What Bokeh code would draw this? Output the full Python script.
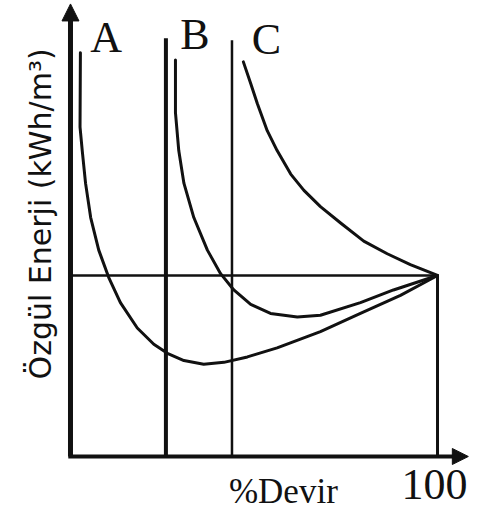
import math
from bokeh.plotting import figure
from bokeh.models import Arrow, NormalHead, Range1d
from bokeh.core.properties import value
from bokeh.embed import file_html
from bokeh.resources import INLINE

# Curves: x = % Devir (speed), y = specific energy (relative, 1.0 at 100 %)
curve_a_x = [2.7, 2.6, 3.2, 4.1, 5.5, 7.7, 10.4, 13.6, 18.2, 22.7, 26.4, 30.9, 36.3,
             41.8, 48.2, 56.3, 68.1, 79.0, 89.9, 100.0]
curve_a_y = [2.23, 1.82, 1.69, 1.51, 1.32, 1.14, 0.99, 0.85, 0.71, 0.62, 0.57, 0.53, 0.51,
             0.52, 0.55, 0.60, 0.69, 0.79, 0.89, 1.00]

curve_b_x = [28.6, 28.6, 29.5, 30.9, 33.6, 37.3, 40.9, 44.5, 49.1, 54.5, 61.8, 68.1,
             79.0, 88.0, 100.0]
curve_b_y = [2.19, 1.90, 1.69, 1.51, 1.32, 1.14, 1.01, 0.92, 0.84, 0.79, 0.77, 0.78,
             0.85, 0.92, 1.00]

curve_c_x = [47.1, 49.1, 50.9, 53.6, 56.3, 60.0, 63.6, 68.1, 73.6, 79.9, 86.3, 92.6, 100.0]
curve_c_y = [2.18, 2.06, 1.95, 1.80, 1.69, 1.56, 1.47, 1.38, 1.29, 1.19, 1.12, 1.06, 1.00]

curve_labels = ["A", "B", "C"]
label_x = [9.7, 33.9, 53.4]
label_y = [2.315, 2.33, 2.305]

limit_lines_x = [26.0, 44.0]      # vertical limit lines
limit_top = [2.31, 2.30]
ref_x = 100.0                      # 100 % Devir
ref_y = 1.0                        # energy at 100 %

x_axis_title = "%Devir"
y_axis_title = "Özgül Enerji (kWh/m³)"
x_tick_label = "100"

W, H = 479, 511
p = figure(width=W, height=H, output_backend="svg", toolbar_location=None,
           x_range=Range1d(-19.07, 111.44), y_range=Range1d(-0.3039, 2.519),
           min_border=0, min_border_left=0, min_border_right=0,
           min_border_top=0, min_border_bottom=0)
p.axis.visible = False
p.grid.visible = False
p.outline_line_color = None
p.background_fill_color = "white"
p.border_fill_color = "white"

black = "#111111"

# axes
p.line([0, 0], [0, 2.44], line_width=5, line_color=black)
p.line([-0.6, 106.5], [0, 0], line_width=4, line_color=black)
p.add_layout(Arrow(end=NormalHead(size=17, fill_color=black, line_color=black),
                   x_start=0, y_start=2.35, x_end=0, y_end=2.50,
                   line_width=4, line_color=black))
p.add_layout(Arrow(end=NormalHead(size=16, fill_color=black, line_color=black),
                   x_start=104, y_start=0, x_end=108.4, y_end=0,
                   line_width=4, line_color=black))

# vertical limit lines
p.line([limit_lines_x[0]] * 2, [0, limit_top[0]], line_width=4, line_color=black)
p.line([limit_lines_x[1]] * 2, [0, limit_top[1]], line_width=2.5, line_color=black)
p.line([ref_x, ref_x], [0, ref_y], line_width=3, line_color=black)
# horizontal reference line
p.line([0, ref_x], [ref_y, ref_y], line_width=2.5, line_color=black)

# curves
for xs, ys in [(curve_a_x, curve_a_y), (curve_b_x, curve_b_y), (curve_c_x, curve_c_y)]:
    p.line(xs, ys, line_width=3, line_color=black, line_join="round", line_cap="round")

# labels
p.text(x=label_x, y=label_y, text=curve_labels, text_font=value("Liberation Serif"),
       text_font_size="44px", text_color=black, text_align="center",
       text_baseline="middle")
p.text(x=[99.2], y=[-0.157], text=[x_tick_label], text_font=value("Liberation Serif"),
       text_font_size="44px", text_color=black, text_align="center",
       text_baseline="middle")
p.text(x=[58.0], y=[-0.193], text=[x_axis_title], text_font=value("Liberation Serif"),
       text_font_size="35px", text_color=black, text_align="center",
       text_baseline="middle")
p.text(x=[-8.2], y=[1.34], text=[y_axis_title], angle=math.pi / 2,
       text_font=value("DejaVu Sans"), text_font_size="30px", text_color=black,
       text_align="center", text_baseline="middle")

open("out.html", "w").write(file_html(p, INLINE))
